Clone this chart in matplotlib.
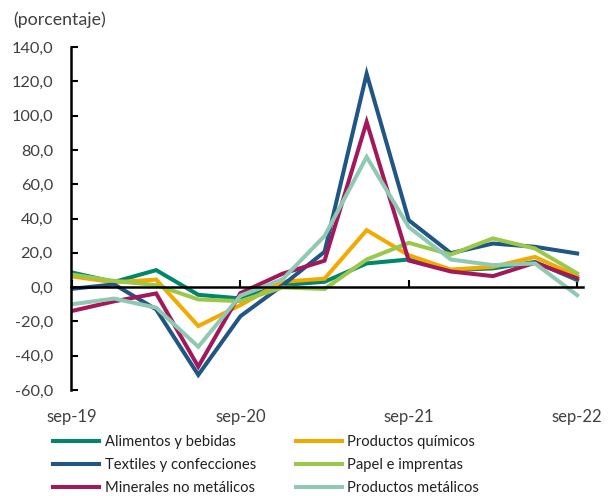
import matplotlib
matplotlib.use("Agg")
import matplotlib.pyplot as plt
import numpy as np

plt.rcParams['font.family'] = ['Lato', 'DejaVu Sans']

quarters = ["sep-19", "dic-19", "mar-20", "jun-20", "sep-20", "dic-20", "mar-21",
            "jun-21", "sep-21", "dic-21", "mar-22", "jun-22", "sep-22"]
tick_labels = ["sep-19", "sep-20", "sep-21", "sep-22"]
tick_idx = [0, 4, 8, 12]

alimentos = [8.5, 3.0, 9.9, -4.5, -6.6, 1.2, 3.1, 13.8, 16.1, 9.9, 10.9, 14.7, 4.1]
quimicos = [6.2, 2.8, 4.4, -22.7, -10.5, 3.1, 4.9, 33.2, 18.6, 10.2, 11.8, 17.6, 6.4]
textiles = [-1.0, 1.6, -13.0, -51.2, -17.0, 1.0, 20.6, 124.4, 39.0, 19.8, 25.4, 23.5, 19.6]
papel = [7.3, 3.6, 1.2, -7.2, -8.2, -0.2, -1.1, 16.1, 25.8, 19.0, 28.4, 22.5, 8.0]
minerales = [-13.9, -8.3, -3.7, -46.4, -3.5, 7.8, 15.4, 96.3, 15.5, 9.1, 6.4, 14.2, 5.1]
metalicos = [-10.0, -6.7, -12.0, -34.8, -5.0, 4.5, 29.8, 75.9, 35.0, 16.1, 12.8, 13.8, -4.7]

series = [
    ("Alimentos y bebidas", alimentos, "#00876A"),
    ("Productos químicos", quimicos, "#F2A900"),
    ("Textiles y confecciones", textiles, "#1F5686"),
    ("Papel e imprentas", papel, "#9BC74A"),
    ("Minerales no metálicos", minerales, "#A3175B"),
    ("Productos metálicos", metalicos, "#8FC9B2"),
]

W, H = 610, 496
fig = plt.figure(figsize=(W / 100, H / 100), dpi=100)
ax = fig.add_axes([71 / W, (H - 390) / H, (583 - 71) / W, (390 - 47) / H])

x = np.arange(len(quarters))
handles = {}
for name, vals, col in series:
    ln, = ax.plot(x, vals, color=col, lw=2.9, solid_joinstyle='miter', label=name)
    handles[name] = ln

ax.set_ylim(-60, 140)
ax.set_yticks(np.arange(-60, 141, 20))
ax.set_yticklabels([f"{v:.1f}".replace(".", ",") for v in np.arange(-60, 141, 20)])
ax.set_xlim(-0.024, 12.14)

for s in ["top", "right"]:
    ax.spines[s].set_visible(False)
ax.spines["left"].set_linewidth(1.8)
ax.spines["bottom"].set_position(("data", 0))
ax.spines["bottom"].set_linewidth(1.8)
ax.set_xticks(tick_idx)
ax.tick_params(axis="x", direction="in", length=5, width=1.5, labelbottom=False)
ax.tick_params(axis="y", direction="in", length=5, width=1.5, pad=13,
               labelsize=11.8, labelcolor="#404040")

sec = ax.secondary_xaxis(0.0)
sec.set_xticks(tick_idx)
sec.set_xticklabels(tick_labels)
sec.spines["bottom"].set_visible(False)
sec.tick_params(axis="x", length=0, pad=14, labelsize=12, labelcolor="#404040")

fig.text(13 / W, 1 - 20 / H, "(porcentaje)", fontsize=12.8, color="#404040",
         ha="left", va="center")

order = ["Alimentos y bebidas", "Textiles y confecciones", "Minerales no metálicos",
         "Productos químicos", "Papel e imprentas", "Productos metálicos"]
fig.legend([handles[n] for n in order], order, ncol=2, frameon=False,
           loc="upper left", bbox_to_anchor=(53 / W, 1 - 435 / H),
           borderpad=0, borderaxespad=0, fontsize=10.6,
           handlelength=3.15, handletextpad=0.35, columnspacing=2.7,
           labelspacing=0.6, labelcolor="#202020")

fig.savefig("out.png", dpi=100)
